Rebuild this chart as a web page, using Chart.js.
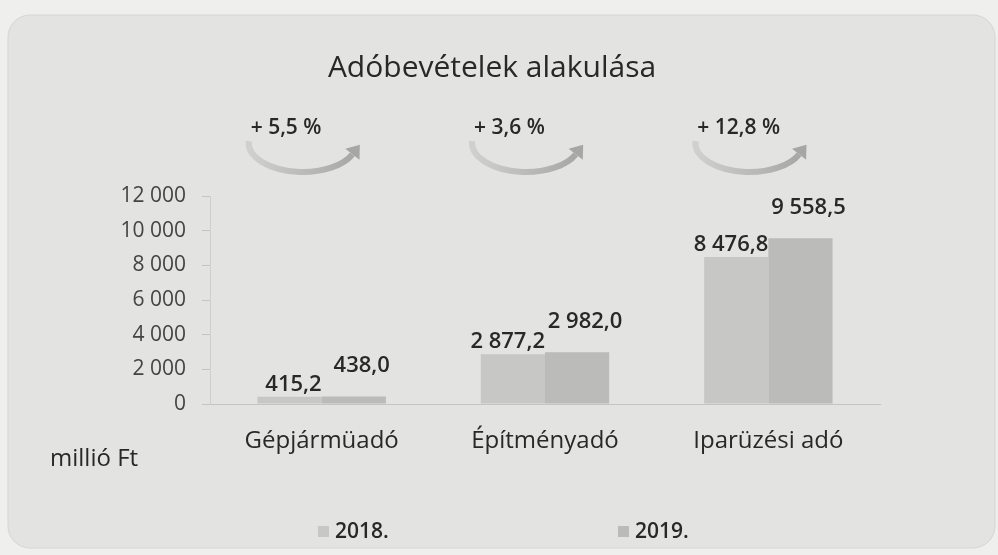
<!DOCTYPE html>
<html>
<head>
<meta charset="utf-8">
<title>Adóbevételek alakulása</title>
<script src="https://cdn.jsdelivr.net/npm/chart.js@4/dist/chart.umd.min.js"></script>
<style>
  html, body { margin: 0; padding: 0; background: #efefed; }
  #wrap { width: 998px; height: 555px; }
</style>
</head>
<body>
<div id="wrap"><canvas id="chart" width="998" height="555"></canvas></div>
<script>
const title = "Adóbevételek alakulása";
const categories = ["Gépjármüadó", "Építményadó", "Iparüzési adó"];
const years = ["2018.", "2019."];
const values2018 = [415.2, 2877.2, 8476.8];
const values2019 = [438.0, 2982.0, 9558.5];
const growthLabels = ["+ 5,5 %", "+ 3,6 %", "+ 12,8 %"];
const yMax = 12000;
const yStep = 2000;
const unitLabel = "millió Ft";

const FONT = "'Open Sans', 'DejaVu Sans', sans-serif";
const TEXT = "#282828";

// 2877.2 -> "2 877,2"
function huNum(v, dec) {
  const parts = Number(v).toFixed(dec).split(".");
  const int = parts[0].replace(/\B(?=(\d{3})+(?!\d))/g, " ");
  return parts[1] ? int + "," + parts[1] : int;
}

// grey rounded card behind everything
const card = {
  id: "card",
  beforeDraw(chart) {
    const ctx = chart.ctx;
    ctx.save();
    ctx.fillStyle = "#efefed";
    ctx.fillRect(0, 0, chart.width, chart.height);
    ctx.beginPath();
    ctx.roundRect(8, 15, chart.width - 11, chart.height - 22, 22);
    ctx.fillStyle = "#e3e3e1";
    ctx.fill();
    ctx.strokeStyle = "#d5d5d3";
    ctx.lineWidth = 1;
    ctx.stroke();
    ctx.restore();
  }
};

// value labels above the bars
const barLabels = {
  id: "barLabels",
  afterDatasetsDraw(chart) {
    const ctx = chart.ctx;
    ctx.save();
    ctx.font = "600 22px " + FONT;
    ctx.fillStyle = TEXT;
    ctx.textBaseline = "alphabetic";
    chart.data.datasets.forEach((ds, di) => {
      chart.getDatasetMeta(di).data.forEach((bar, i) => {
        const txt = huNum(ds.data[i], 1);
        if (di === 0) {
          ctx.textAlign = "right";
          ctx.fillText(txt, bar.x + bar.width / 2, bar.y - 6);
        } else {
          ctx.textAlign = "center";
          ctx.fillText(txt, bar.x + 8, bar.y - 24);
        }
      });
    });
    ctx.restore();
  }
};

// curved growth arrows with percentages, unit label and legend
const growthArrows = {
  id: "growthArrows",
  afterDraw(chart) {
    const ctx = chart.ctx;
    const x = chart.scales.x;
    ctx.save();
    growthLabels.forEach((lbl, i) => {
      const cx = x.getPixelForValue(i) - 19;
      const cy = 143, rx = 54, ry = 29;
      const endA = 0.4;
      const grad = ctx.createLinearGradient(cx - rx, 0, cx + rx, 0);
      grad.addColorStop(0, "#d0d0ce");
      grad.addColorStop(1, "#a6a6a4");
      ctx.beginPath();
      ctx.ellipse(cx, cy, rx, ry, 0, Math.PI * 1.02, endA, true);
      ctx.strokeStyle = grad;
      ctx.lineWidth = 6;
      ctx.lineCap = "butt";
      ctx.stroke();
      // arrow head along the tangent
      const ex = cx + rx * Math.cos(endA), ey = cy + ry * Math.sin(endA);
      const tx = rx * Math.sin(endA), ty = -ry * Math.cos(endA);
      const len = Math.hypot(tx, ty);
      const ux = tx / len, uy = ty / len;
      const size = 12;
      ctx.beginPath();
      ctx.moveTo(ex + ux * size, ey + uy * size);
      ctx.lineTo(ex - uy * size * 0.75, ey + ux * size * 0.75);
      ctx.lineTo(ex + uy * size * 0.75, ey - ux * size * 0.75);
      ctx.closePath();
      ctx.fillStyle = "#a6a6a4";
      ctx.fill();

      ctx.font = "600 21px " + FONT;
      ctx.fillStyle = TEXT;
      ctx.textAlign = "left";
      ctx.textBaseline = "alphabetic";
      ctx.fillText(lbl, cx - rx + 2, 134);
    });

    // unit label
    ctx.font = "24px " + FONT;
    ctx.fillStyle = TEXT;
    ctx.textAlign = "left";
    ctx.fillText(unitLabel, 50, 466);

    // legend, spread out like the original
    const mid = chart.width / 2;
    const starts = [mid - 181, mid + 119];
    ctx.font = "600 21px " + FONT;
    chart.data.datasets.forEach((ds, di) => {
      const sx = starts[di];
      ctx.fillStyle = ds.backgroundColor;
      ctx.fillRect(sx, 526, 11, 11);
      ctx.fillStyle = TEXT;
      ctx.fillText(ds.label, sx + 17, 538);
    });
    ctx.restore();
  }
};

new Chart(document.getElementById("chart"), {
  type: "bar",
  data: {
    labels: categories,
    datasets: [
      {
        label: years[0],
        data: values2018,
        backgroundColor: "#c7c7c5",
        categoryPercentage: 0.575,
        barPercentage: 1
      },
      {
        label: years[1],
        data: values2019,
        backgroundColor: "#bbbbb9",
        categoryPercentage: 0.575,
        barPercentage: 1
      }
    ]
  },
  options: {
    responsive: false,
    animation: false,
    layout: { padding: { left: 104, right: 118, top: 0, bottom: 0 } },
    plugins: {
      legend: { display: false },
      tooltip: { enabled: false },
      title: {
        display: true,
        text: title,
        color: TEXT,
        font: { family: FONT, size: 30, weight: "normal" },
        padding: { top: 50, bottom: 110 }
      }
    },
    scales: {
      x: {
        grid: { display: true, drawOnChartArea: false, drawTicks: false, color: "#c8c8c6" },
        border: { color: "#c4c4c2" },
        ticks: { color: TEXT, font: { family: FONT, size: 24 }, padding: 23 },
        afterFit: (s) => { s.height = 151; }
      },
      y: {
        min: 0,
        max: yMax,
        ticks: {
          stepSize: yStep,
          color: "#444",
          font: { family: FONT, size: 21 },
          padding: 16,
          callback: (v) => huNum(v, 0)
        },
        grid: { drawOnChartArea: false, tickLength: 8, color: "#c4c4c2" },
        border: { color: "#cfcfcd" },
        afterFit: (s) => { s.width = 106; }
      }
    }
  },
  plugins: [card, barLabels, growthArrows]
});
</script>
</body>
</html>
